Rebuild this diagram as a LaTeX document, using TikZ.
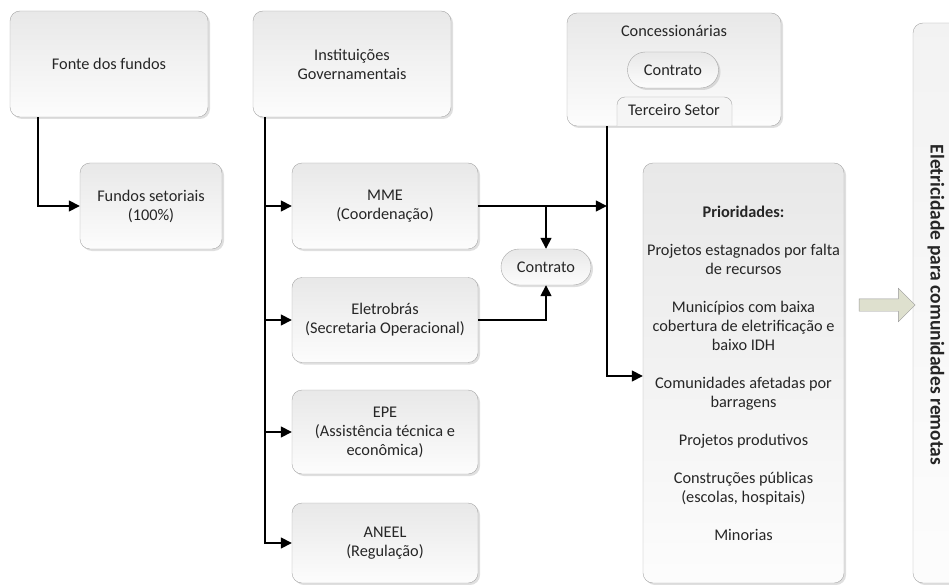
\documentclass[tikz,border=0pt]{standalone}
\usepackage{fontspec}
\setmainfont{Carlito}
\usetikzlibrary{arrows.meta,calc,shadows,shapes.arrows}
\tikzset{
	caixa/.style={draw=black!35, rounded corners=10pt, top color=black!9, bottom color=black!1,
		drop shadow={shadow xshift=2pt, shadow yshift=-2pt, opacity=0.25},
		align=center, text=black!85, font=\fontsize{16.3}{19}\selectfont, inner sep=0pt},
	pilula/.style={caixa, rounded corners=18pt, minimum width=90pt, minimum height=36pt},
	seta/.style={line width=1.6pt, -{Triangle[length=11pt,width=11pt]}},
}

\begin{document}
\begin{tikzpicture}[x=1pt, y=-1pt]
			%%%%% START %%%%%
			\useasboundingbox (0,0) rectangle (949,585);
			
			\node[caixa, minimum width=198pt, minimum height=106pt] (fonte) at (109, 64) {Fonte dos fundos};
			\node[caixa, minimum width=198pt, minimum height=106pt] (inst) at (352, 64) {Instituições\\Governamentais};
			\node[caixa, minimum width=142pt, minimum height=86pt] (fundos) at (151, 206) {Fundos setoriais\\(100\%)};
			
			\node[caixa, minimum width=186pt, minimum height=86pt] (mme) at (385, 206) {MME\\(Coordenação)};
			\node[caixa, minimum width=186pt, minimum height=85pt] (eletro) at (385, 320) {Eletrobrás\\(Secretaria Operacional)};
			\node[caixa, minimum width=186pt, minimum height=84pt] (epe) at (385, 432) {EPE\\(Assistência técnica e\\econômica)};
			\node[caixa, minimum width=186pt, minimum height=80pt] (aneel) at (385, 543) {ANEEL\\(Regulação)};
			
			\node[pilula] (contrato) at (546, 267) {Contrato};
			
			% concessionarias
			\node[caixa, minimum width=214pt, minimum height=113pt] (conc) at (674, 69.5) {};
			\node[text=black!85, font=\fontsize{16.3}{19}\selectfont] (conctit) at (674, 31) {Concessionárias};
			\node[pilula, minimum width=91pt] (contratoconc) at (673, 70) {Contrato};
			\draw[draw=black!35, fill=black!4, rounded corners=8pt] (617,126) -- (617,97) -- (732,97) -- (732,126);
			\node[text=black!85, font=\fontsize{16.3}{19}\selectfont] (terceiro) at (674, 110) {Terceiro Setor};
			
			\node[caixa, minimum width=201pt, minimum height=420pt] (prior) at (743.5, 373) {\textbf{Prioridades:}\\[19pt]
				Projetos estagnados por falta\\de recursos\\[19pt]
				Municípios com baixa\\cobertura de eletrificação e\\baixo IDH\\[19pt]
				Comunidades afetadas por\\barragens\\[19pt]
				Projetos produtivos\\[19pt]
				Construções públicas\\(escolas, hospitais)\\[19pt]
				Minorias};
			
			\node[caixa, top color=black!5, minimum width=60pt, minimum height=560pt] (eletric) at (943, 303) {};
			\node[rotate=-90, text=black!85, font=\fontsize{19.5}{22}\selectfont\bfseries] (eletrictxt) at (936, 305) {Eletricidade para comunidades remotas};
			
			\node[single arrow, draw=black!40, fill={rgb,255:red,222;green,224;blue,206}, minimum height=56pt, minimum width=33pt, inner sep=6pt, single arrow head extend=10.5pt] (grande) at (884, 305) {};
			
			% ligacoes
			\draw[seta] ($(fonte.south west)+(28,0)$) |- (fundos);
			\coordinate (ramo) at ($(inst.south west)+(12,0)$);
			\foreach \n in {mme,eletro,epe,aneel}
				\draw[seta] (ramo) |- (\n);
			\coordinate (tronco) at ($(conc.south west)+(40,0)$);
			\draw[seta] (mme) -- (mme -| tronco);
			\draw[seta] (contrato |- mme) -- (contrato);
			\draw[seta] (eletro) -| (contrato);
			\draw[seta] (tronco) |- ($(prior.west)+(0,3)$);
			
			%%%%% END %%%%%
\end{tikzpicture}
\end{document}
